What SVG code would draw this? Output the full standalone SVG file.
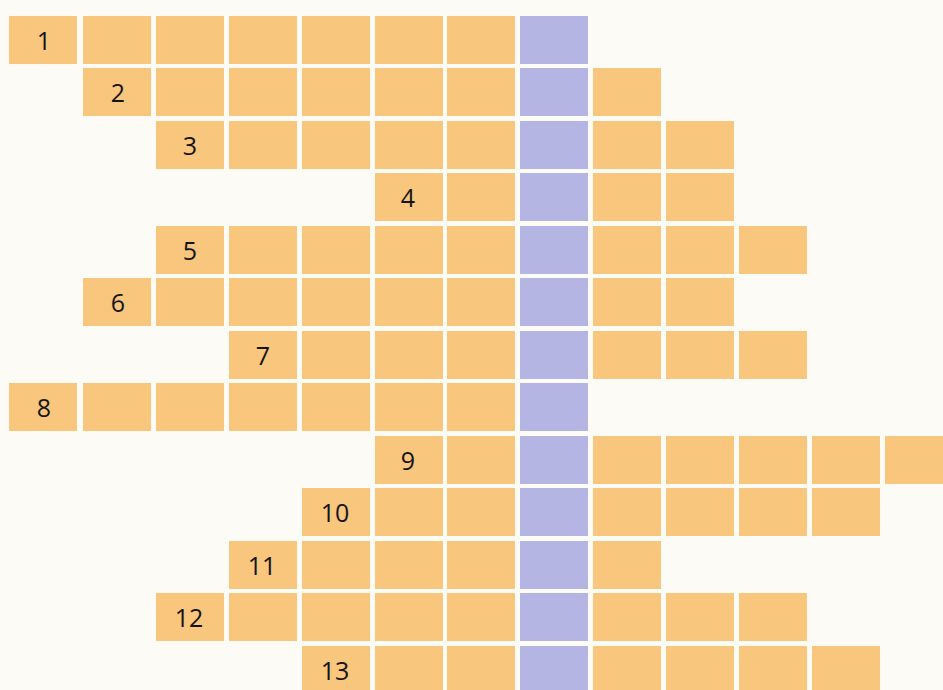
<svg xmlns="http://www.w3.org/2000/svg" width="943" height="690" viewBox="0 0 943 690">
<style>
.c{fill:#F8C67D}
.p{fill:#B5B5E4}
.n{font-family:"Open Sans","Noto Sans","Liberation Sans",sans-serif;font-size:25px;fill:#151515;text-anchor:middle}
</style>
<defs>
<rect id="o" class="c" width="68" height="48"/>
<rect id="v" class="p" width="68" height="48"/>
</defs>
<rect width="943" height="690" fill="#FCFBF6"/>
<g id="row1">
<use href="#o" x="9" y="16"/><use href="#o" x="83" y="16"/><use href="#o" x="156" y="16"/><use href="#o" x="229" y="16"/><use href="#o" x="302" y="16"/><use href="#o" x="375" y="16"/><use href="#o" x="447" y="16"/><use href="#v" x="520" y="16"/>
<text class="n" x="44" y="50">1</text>
</g>
<g id="row2">
<use href="#o" x="83" y="68"/><use href="#o" x="156" y="68"/><use href="#o" x="229" y="68"/><use href="#o" x="302" y="68"/><use href="#o" x="375" y="68"/><use href="#o" x="447" y="68"/><use href="#v" x="520" y="68"/><use href="#o" x="593" y="68"/>
<text class="n" x="118" y="102">2</text>
</g>
<g id="row3">
<use href="#o" x="156" y="121"/><use href="#o" x="229" y="121"/><use href="#o" x="302" y="121"/><use href="#o" x="375" y="121"/><use href="#o" x="447" y="121"/><use href="#v" x="520" y="121"/><use href="#o" x="593" y="121"/><use href="#o" x="666" y="121"/>
<text class="n" x="190" y="155">3</text>
</g>
<g id="row4">
<use href="#o" x="375" y="173"/><use href="#o" x="447" y="173"/><use href="#v" x="520" y="173"/><use href="#o" x="593" y="173"/><use href="#o" x="666" y="173"/>
<text class="n" x="408" y="207">4</text>
</g>
<g id="row5">
<use href="#o" x="156" y="226"/><use href="#o" x="229" y="226"/><use href="#o" x="302" y="226"/><use href="#o" x="375" y="226"/><use href="#o" x="447" y="226"/><use href="#v" x="520" y="226"/><use href="#o" x="593" y="226"/><use href="#o" x="666" y="226"/><use href="#o" x="739" y="226"/>
<text class="n" x="190" y="260">5</text>
</g>
<g id="row6">
<use href="#o" x="83" y="278"/><use href="#o" x="156" y="278"/><use href="#o" x="229" y="278"/><use href="#o" x="302" y="278"/><use href="#o" x="375" y="278"/><use href="#o" x="447" y="278"/><use href="#v" x="520" y="278"/><use href="#o" x="593" y="278"/><use href="#o" x="666" y="278"/>
<text class="n" x="118" y="312">6</text>
</g>
<g id="row7">
<use href="#o" x="229" y="331"/><use href="#o" x="302" y="331"/><use href="#o" x="375" y="331"/><use href="#o" x="447" y="331"/><use href="#v" x="520" y="331"/><use href="#o" x="593" y="331"/><use href="#o" x="666" y="331"/><use href="#o" x="739" y="331"/>
<text class="n" x="263" y="365">7</text>
</g>
<g id="row8">
<use href="#o" x="9" y="383"/><use href="#o" x="83" y="383"/><use href="#o" x="156" y="383"/><use href="#o" x="229" y="383"/><use href="#o" x="302" y="383"/><use href="#o" x="375" y="383"/><use href="#o" x="447" y="383"/><use href="#v" x="520" y="383"/>
<text class="n" x="44" y="417">8</text>
</g>
<g id="row9">
<use href="#o" x="375" y="436"/><use href="#o" x="447" y="436"/><use href="#v" x="520" y="436"/><use href="#o" x="593" y="436"/><use href="#o" x="666" y="436"/><use href="#o" x="739" y="436"/><use href="#o" x="812" y="436"/><use href="#o" x="885" y="436"/>
<text class="n" x="408" y="470">9</text>
</g>
<g id="row10">
<use href="#o" x="302" y="488"/><use href="#o" x="375" y="488"/><use href="#o" x="447" y="488"/><use href="#v" x="520" y="488"/><use href="#o" x="593" y="488"/><use href="#o" x="666" y="488"/><use href="#o" x="739" y="488"/><use href="#o" x="812" y="488"/>
<text class="n" x="335" y="522">10</text>
</g>
<g id="row11">
<use href="#o" x="229" y="541"/><use href="#o" x="302" y="541"/><use href="#o" x="375" y="541"/><use href="#o" x="447" y="541"/><use href="#v" x="520" y="541"/><use href="#o" x="593" y="541"/>
<text class="n" x="262" y="575">11</text>
</g>
<g id="row12">
<use href="#o" x="156" y="593"/><use href="#o" x="229" y="593"/><use href="#o" x="302" y="593"/><use href="#o" x="375" y="593"/><use href="#o" x="447" y="593"/><use href="#v" x="520" y="593"/><use href="#o" x="593" y="593"/><use href="#o" x="666" y="593"/><use href="#o" x="739" y="593"/>
<text class="n" x="189" y="627">12</text>
</g>
<g id="row13">
<use href="#o" x="302" y="646"/><use href="#o" x="375" y="646"/><use href="#o" x="447" y="646"/><use href="#v" x="520" y="646"/><use href="#o" x="593" y="646"/><use href="#o" x="666" y="646"/><use href="#o" x="739" y="646"/><use href="#o" x="812" y="646"/>
<text class="n" x="335" y="680">13</text>
</g>
<g id="connectors"/>
</svg>
